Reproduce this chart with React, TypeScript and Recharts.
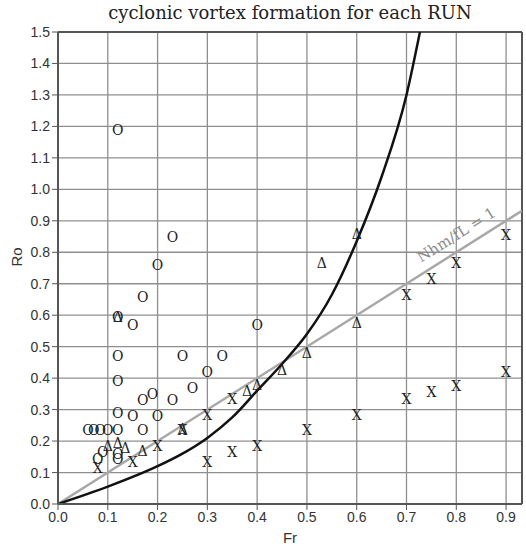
import React from "react";
import {
  ComposedChart,
  XAxis,
  YAxis,
  CartesianGrid,
  Line,
  Scatter,
  ReferenceLine,
  ReferenceDot
} from "recharts";

// Axis ticks
const FR_TICKS = [0, 0.1, 0.2, 0.3, 0.4, 0.5, 0.6, 0.7, 0.8, 0.9];
const RO_TICKS = [0, 0.1, 0.2, 0.3, 0.4, 0.5, 0.6, 0.7, 0.8, 0.9, 1.0, 1.1, 1.2, 1.3, 1.4, 1.5];
const FR_MAX = 0.932;
const RO_MAX = 1.5;

// Runs marked "O"
const circleRuns = [
  { fr: 0.12, ro: 1.19 },
  { fr: 0.23, ro: 0.85 },
  { fr: 0.2, ro: 0.76 },
  { fr: 0.17, ro: 0.66 },
  { fr: 0.12, ro: 0.595 },
  { fr: 0.15, ro: 0.57 },
  { fr: 0.4, ro: 0.57 },
  { fr: 0.12, ro: 0.47 },
  { fr: 0.25, ro: 0.47 },
  { fr: 0.33, ro: 0.47 },
  { fr: 0.3, ro: 0.42 },
  { fr: 0.12, ro: 0.39 },
  { fr: 0.27, ro: 0.37 },
  { fr: 0.19, ro: 0.35 },
  { fr: 0.17, ro: 0.33 },
  { fr: 0.23, ro: 0.33 },
  { fr: 0.12, ro: 0.29 },
  { fr: 0.15, ro: 0.28 },
  { fr: 0.2, ro: 0.28 },
  { fr: 0.06, ro: 0.235 },
  { fr: 0.072, ro: 0.235 },
  { fr: 0.085, ro: 0.235 },
  { fr: 0.1, ro: 0.235 },
  { fr: 0.12, ro: 0.235 },
  { fr: 0.17, ro: 0.235 },
  { fr: 0.09, ro: 0.165 },
  { fr: 0.08, ro: 0.145 },
  { fr: 0.12, ro: 0.16 },
  { fr: 0.12, ro: 0.145 }
];

// Runs marked "X"
const crossRuns = [
  { fr: 0.08, ro: 0.115 },
  { fr: 0.15, ro: 0.135 },
  { fr: 0.2, ro: 0.185 },
  { fr: 0.25, ro: 0.235 },
  { fr: 0.3, ro: 0.135 },
  { fr: 0.3, ro: 0.285 },
  { fr: 0.35, ro: 0.165 },
  { fr: 0.35, ro: 0.335 },
  { fr: 0.4, ro: 0.185 },
  { fr: 0.5, ro: 0.235 },
  { fr: 0.6, ro: 0.285 },
  { fr: 0.7, ro: 0.335 },
  { fr: 0.7, ro: 0.665 },
  { fr: 0.75, ro: 0.355 },
  { fr: 0.75, ro: 0.715 },
  { fr: 0.8, ro: 0.375 },
  { fr: 0.8, ro: 0.765 },
  { fr: 0.9, ro: 0.42 },
  { fr: 0.9, ro: 0.855 }
];

// Runs marked with a triangle
const triangleRuns = [
  { fr: 0.1, ro: 0.185 },
  { fr: 0.12, ro: 0.195 },
  { fr: 0.135, ro: 0.18 },
  { fr: 0.17, ro: 0.17 },
  { fr: 0.12, ro: 0.595 },
  { fr: 0.25, ro: 0.24 },
  { fr: 0.38, ro: 0.36 },
  { fr: 0.4, ro: 0.38 },
  { fr: 0.45, ro: 0.425 },
  { fr: 0.5, ro: 0.48 },
  { fr: 0.53, ro: 0.765 },
  { fr: 0.6, ro: 0.575 },
  { fr: 0.6, ro: 0.858 }
];

// Boundary curve for cyclonic vortex formation
const vortexCurve = [
  { fr: 0, ro: 0 },
  { fr: 0.1, ro: 0.055 },
  { fr: 0.2, ro: 0.12 },
  { fr: 0.25, ro: 0.16 },
  { fr: 0.3, ro: 0.21 },
  { fr: 0.35, ro: 0.275 },
  { fr: 0.4, ro: 0.36 },
  { fr: 0.45, ro: 0.445 },
  { fr: 0.5, ro: 0.54 },
  { fr: 0.55, ro: 0.665 },
  { fr: 0.6, ro: 0.835 },
  { fr: 0.65, ro: 1.04 },
  { fr: 0.7, ro: 1.3 },
  { fr: 0.727, ro: 1.5 }
];

// Nhm/fL = 1 line
const unityLine = [
  { fr: 0, ro: 0 },
  { fr: FR_MAX, ro: FR_MAX }
];
const unityLabel = { fr: 0.8, ro: 0.855, text: "Nhm/fL = 1" };

const SERIF = "'DejaVu Serif', 'Liberation Serif', serif";
const SANS = "'Liberation Sans', Arial, sans-serif";

const glyph = (ch: string) => (props: any) => {
  const { cx, cy } = props;
  if (cx == null || cy == null) return null;
  return (
    <text
      x={cx}
      y={cy}
      dy="0.37em"
      textAnchor="middle"
      fontFamily={SERIF}
      fontSize={14}
      fill="#1e1e1e"
    >
      {ch}
    </text>
  );
};

const tickStyle = { fill: "#333", fontSize: 14, fontFamily: SANS };

export default function App() {
  return (
    <div style={{ position: "absolute", left: 0, top: 0, width: 526, height: 549, background: "#fff" }}>
      <div
        style={{
          position: "absolute",
          left: 58,
          top: 2,
          width: 464,
          textAlign: "center",
          fontFamily: SERIF,
          fontSize: 18,
          lineHeight: "22px",
          color: "#222"
        }}
      >
        cyclonic vortex formation for each RUN
      </div>
      <ComposedChart width={526} height={549} margin={{ top: 32, right: 4, bottom: 0, left: 0 }}>
        <CartesianGrid stroke="#8f8f8f" strokeWidth={1.3} />
        <XAxis
          dataKey="fr"
          type="number"
          domain={[0, FR_MAX]}
          allowDataOverflow
          ticks={FR_TICKS}
          tickFormatter={(v: number) => v.toFixed(1)}
          tick={tickStyle}
          tickSize={6}
          height={45}
          stroke="#555"
          axisLine={{ stroke: "#555", strokeWidth: 2 }}
          tickLine={{ stroke: "#555" }}
          label={{ value: "Fr", position: "insideBottom", offset: 6, style: { fill: "#333", fontSize: 15, fontFamily: SANS } }}
        />
        <YAxis
          dataKey="ro"
          type="number"
          domain={[0, RO_MAX]}
          allowDataOverflow
          ticks={RO_TICKS}
          tickFormatter={(v: number) => v.toFixed(1)}
          tick={tickStyle}
          tickSize={6}
          width={58}
          stroke="#555"
          axisLine={{ stroke: "#555", strokeWidth: 2 }}
          tickLine={{ stroke: "#555" }}
          label={{
            content: (p: any) => {
              const vb = p.viewBox || {};
              const x = (vb.x ?? 0) + 16;
              const y = (vb.y ?? 0) + (vb.height ?? 0) / 2 - 11;
              return (
                <text
                  x={x}
                  y={y}
                  transform={`rotate(-90 ${x} ${y})`}
                  textAnchor="middle"
                  dominantBaseline="central"
                  fill="#333"
                  fontSize={15}
                  fontFamily={SANS}
                >
                  Ro
                </text>
              );
            }
          }}
        />
        <ReferenceLine y={RO_MAX} stroke="#555" strokeWidth={2} />
        <ReferenceLine x={FR_MAX} stroke="#555" strokeWidth={2} />
        <Line
          data={unityLine}
          dataKey="ro"
          type="linear"
          stroke="#a8a8a8"
          strokeWidth={2.5}
          dot={false}
          isAnimationActive={false}
        />
        <Line
          data={vortexCurve}
          dataKey="ro"
          type="monotone"
          stroke="#111"
          strokeWidth={2.5}
          dot={false}
          isAnimationActive={false}
        />
        <ReferenceDot
          x={unityLabel.fr}
          y={unityLabel.ro}
          ifOverflow="visible"
          shape={(p: any) => (
            <text
              x={p.cx}
              y={p.cy}
              transform={`rotate(-32 ${p.cx} ${p.cy})`}
              textAnchor="middle"
              dominantBaseline="central"
              fontFamily={SERIF}
              fontSize={15}
              fill="#8a8a8a"
            >
              {unityLabel.text}
            </text>
          )}
        />
        <Scatter data={circleRuns} dataKey="ro" shape={glyph("O")} isAnimationActive={false} />
        <Scatter data={crossRuns} dataKey="ro" shape={glyph("X")} isAnimationActive={false} />
        <Scatter data={triangleRuns} dataKey="ro" shape={glyph("Δ")} isAnimationActive={false} />
      </ComposedChart>
    </div>
  );
}
